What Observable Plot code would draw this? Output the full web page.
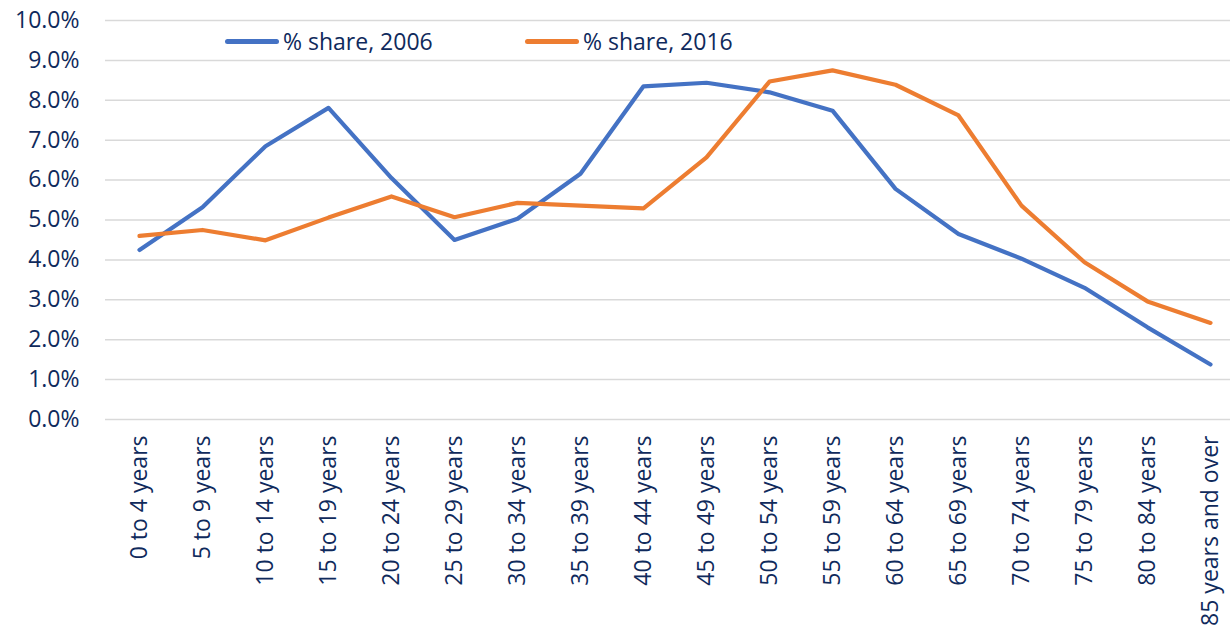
<!DOCTYPE html>
<html>
<head>
<meta charset="utf-8">
<script src="https://cdn.jsdelivr.net/npm/d3@7"></script>
<script src="https://cdn.jsdelivr.net/npm/@observablehq/plot@0.6"></script>
<style>
  html, body { margin: 0; padding: 0; background: #fff; }
  #wrap { position: relative; width: 1230px; height: 627px; font-family: "Open Sans", sans-serif; }
  .legend { position: absolute; top: 25px; display: flex; align-items: center; font-size: 23px; color: #0f2a5c; }
  .legend .sw { width: 54px; height: 5px; border-radius: 3px; margin-right: 4px; }
</style>
</head>
<body>
<div id="wrap"></div>
<script>
const ageGroups = ["0 to 4 years","5 to 9 years","10 to 14 years","15 to 19 years","20 to 24 years","25 to 29 years","30 to 34 years","35 to 39 years","40 to 44 years","45 to 49 years","50 to 54 years","55 to 59 years","60 to 64 years","65 to 69 years","70 to 74 years","75 to 79 years","80 to 84 years","85 years and over"];
const share2006 = [4.25, 5.32, 6.85, 7.81, 6.05, 4.50, 5.03, 6.16, 8.35, 8.44, 8.20, 7.74, 5.78, 4.65, 4.03, 3.30, 2.31, 1.38];
const share2016 = [4.60, 4.75, 4.49, 5.06, 5.59, 5.07, 5.43, 5.36, 5.29, 6.57, 8.47, 8.75, 8.39, 7.62, 5.36, 3.94, 2.96, 2.42];
const seriesNames = ["% share, 2006", "% share, 2016"];
const seriesColors = ["#4472C4", "#ED7D31"];
const yTicks = [0,1,2,3,4,5,6,7,8,9,10];

const rows = [];
ageGroups.forEach((a, i) => {
  rows.push({age: a, value: share2006[i], series: seriesNames[0]});
  rows.push({age: a, value: share2016[i], series: seriesNames[1]});
});

const chart = Plot.plot({
  width: 1230,
  height: 627,
  marginLeft: 105,
  marginRight: 0,
  marginTop: 20,
  marginBottom: 208,
  style: {fontFamily: "Open Sans, sans-serif", fontSize: "23px", color: "#0f2a5c", background: "#fff"},
  x: {type: "point", domain: ageGroups, range: [136.5, 1212.5], padding: 0, label: null},
  y: {domain: [0, 10], label: null},
  color: {domain: seriesNames, range: seriesColors},
  marks: [
    Plot.ruleY(yTicks, {stroke: "#d9d9d9", strokeWidth: 1.5}),
    Plot.axisY({ticks: yTicks, tickSize: 0, tickPadding: 26, tickFormat: d => d.toFixed(1) + "%", label: null, fontSize: 23}),
    Plot.axisX({tickSize: 0, tickPadding: 16, tickRotate: -90, label: null, fontSize: 23}),
    Plot.line(rows, {x: "age", y: "value", z: "series", stroke: "series", strokeWidth: 4.2, strokeLinejoin: "round", strokeLinecap: "round"})
  ]
});

const wrap = document.getElementById("wrap");
wrap.appendChild(chart);

const legendPos = [225, 525];
seriesNames.forEach((n, i) => {
  const d = document.createElement("div");
  d.className = "legend";
  d.style.left = legendPos[i] + "px";
  d.innerHTML = `<span class="sw" style="background:${seriesColors[i]}"></span><span>${n}</span>`;
  wrap.appendChild(d);
});
</script>
</body>
</html>
